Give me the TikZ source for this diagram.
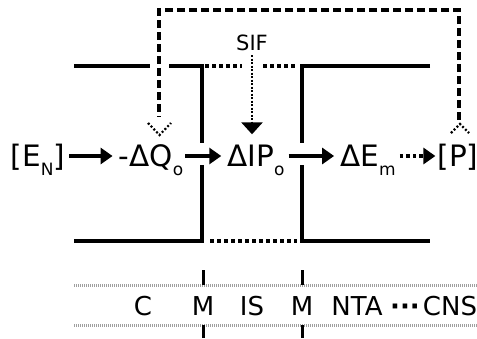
\documentclass[tikz,border=0pt]{standalone}
\usepackage{fontspec}
\setmainfont{DejaVu Sans}
\usetikzlibrary{arrows.meta}
\newcommand\sbx[1]{\raisebox{-9pt}{\fontsize{17}{17}\selectfont #1}}
\tikzset{
  txt/.style={inner sep=0pt, anchor=base, font=\fontsize{29.5}{29.5}\selectfont},
  btxt/.style={inner sep=0pt, anchor=base, font=\fontsize{26}{26}\selectfont},
  wall/.style={line width=4.5pt, line join=miter},
  gapline/.style={line width=4.5pt, dash pattern=on 4pt off 3pt},
  arr/.style={line width=3.2pt, -{Triangle[length=12pt,width=16pt]}},
  dotarr/.style={line width=3.5pt, dash pattern=on 3.5pt off 3pt, -{Triangle[length=12pt,width=16pt]}},
  sifarr/.style={line width=2.8pt, dash pattern=on 2pt off 1.5pt, -{Triangle[length=12pt,width=21pt]}},
  fb/.style={line width=3.2pt, dash pattern=on 8pt off 4pt},
  chev/.style={line width=2.2pt, dash pattern=on 2pt off 2pt},
  rail/.style={line width=3pt, gray!75, dash pattern=on 1.2pt off 0.8pt},
  tick/.style={line width=3pt}
}
\begin{document}
\begin{tikzpicture}[x=1pt,y=-1pt]
\useasboundingbox (0,0) rectangle (477,338);
% chambers
\draw[wall] (74,66) -- (150,66);
\draw[wall] (169,66) -- (202,66) -- (202,143);
\draw[wall] (202,165) -- (202,241) -- (74,241);
\draw[wall] (430,66) -- (302,66) -- (302,143);
\draw[wall] (302,165) -- (302,241) -- (430,241);
\draw[gapline] (205,66) -- (242,66);
\draw[gapline] (263,66) -- (297,66);
\draw[gapline] (210,241) -- (297,241);
% middle row
\node[txt] (en) at (38,166) {[E\sbx{N}]};
\node[txt] (dq) at (151,166) {-ΔQ\sbx{o}};
\node[txt] (dip) at (256,166) {ΔIP\sbx{o}};
\node[txt] (dem) at (368,166) {ΔE\sbx{m}};
\node[txt] (p) at (458,166) {[P]};
\draw[arr, shorten <=4pt, shorten >=6pt] ([yshift=10pt]en.base east) -- ([yshift=10pt]dq.base west);
\draw[arr, shorten <=2pt, shorten >=6pt] ([yshift=10pt]dq.base east) -- ([yshift=10pt]dip.base west);
\draw[arr, shorten <=4pt, shorten >=6pt] ([yshift=10pt]dip.base east) -- ([yshift=10pt]dem.base west);
\draw[dotarr, shorten <=4pt, shorten >=2pt] ([yshift=10pt]dem.base east) -- ([yshift=10pt]p.base west);
% SIF
\node[inner sep=0pt, font=\fontsize{21}{21}\selectfont] (sif) at (252,43) {SIF};
\draw[sifarr, shorten >=10pt] ([yshift=-4pt]sif.south) -- (sif.south |- dip.north);
% feedback
\coordinate (fbR) at (459,120);
\coordinate (fbL) at (159,117);
\draw[fb] (fbR) -- (459,10) -- (159,10) -- (fbL);
\draw[chev] (148,123) -- (159.5,135) -- (171,123);
\draw[chev] (451,133) -- (460,124) -- (469,133);
% bottom panel
\draw[rail] (74,285) -- (477,285);
\draw[rail] (74,325) -- (477,325);
\draw[tick] (203,270) -- (203,285);
\draw[tick] (203,325) -- (203,338);
\draw[tick] (302,270) -- (302,285);
\draw[tick] (302,325) -- (302,338);
\node[btxt] (c) at (143,315) {C};
\node[btxt] (m1) at (203,315) {M};
\node[btxt] (is) at (252,315) {IS};
\node[btxt] (m2) at (302,315) {M};
\node[btxt] (nta) at (357,315) {NTA};
\node[btxt] (dots) at (405,315) {\textbf{···}};
\node[btxt] (cns) at (450,315) {CNS};
\end{tikzpicture}
\end{document}
